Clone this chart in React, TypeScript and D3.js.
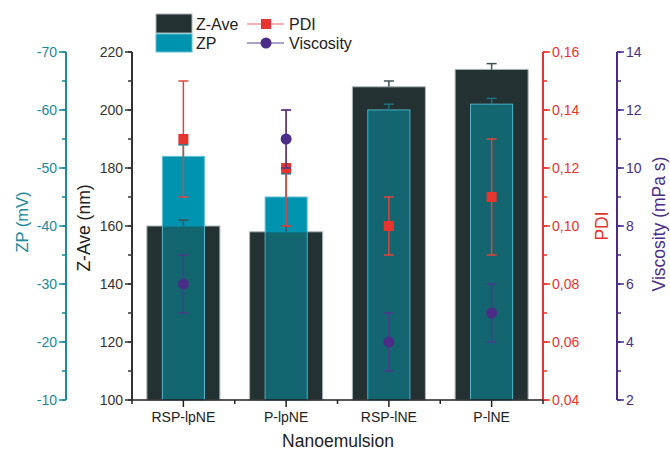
import { useEffect, useRef } from "react";
import * as d3 from "d3";

// data
const categories = ["RSP-lpNE", "P-lpNE", "RSP-lNE", "P-lNE"];
const zave = [160, 158, 208, 214];
const zaveErr = [2, 2, 2, 2];
const zp = [-52, -45, -60, -61];
const zpErr = [2, 4, 1, 1];
const pdi = [0.13, 0.12, 0.1, 0.11];
const pdiErr = [0.02, 0.02, 0.01, 0.02];
const viscosity = [6, 11, 4, 5];
const viscosityErr = [1, 1, 1, 1];

const zaveTicks = [100, 120, 140, 160, 180, 200, 220];
const zpTicks = [-10, -20, -30, -40, -50, -60, -70];
const pdiTicks = [0.04, 0.06, 0.08, 0.1, 0.12, 0.14, 0.16];
const viscTicks = [2, 4, 6, 8, 10, 12, 14];

const W = 670, H = 451;
const top = 52, bottom = 400, left = 132, right = 543;
const zpAxisX = 66, viscAxisX = 617;

const C_ZAVE = "#243133";
const C_ZP = "#0093b0";
const C_MIX = "#13666f";
const C_RED = "#e8342f";
const C_PURPLE = "#4b2d87";
const C_ZPAXIS = "#1a8a9c";
const FONT = "'Liberation Sans', Arial, sans-serif";

export default function App() {
  const ref = useRef<SVGSVGElement>(null);

  useEffect(() => {
    document.body.style.margin = "0";
    const svg = d3.select(ref.current);
    svg.selectAll("*").remove();

    const x = d3.scaleBand().domain(categories).range([left, right]).padding(0);
    const yZ = d3.scaleLinear().domain([100, 220]).range([bottom, top]);
    const yP = d3.scaleLinear().domain([-10, -70]).range([bottom, top]);
    const yD = d3.scaleLinear().domain([0.04, 0.16]).range([bottom, top]);
    const yV = d3.scaleLinear().domain([2, 14]).range([bottom, top]);

    const bw = x.bandwidth();
    const cx = (i: number) => (x(categories[i]) as number) + bw / 2;
    const zW = 73, pW = 42;

    const plot = svg.append("g");

    // Z-Ave bars
    plot.selectAll(".zave").data(zave).enter().append("rect")
      .attr("x", (d, i) => cx(i) - zW / 2)
      .attr("y", d => yZ(d))
      .attr("width", zW)
      .attr("height", d => bottom - yZ(d))
      .attr("fill", C_ZAVE)
      .attr("stroke", "#a9b4b6").attr("stroke-width", 1);

    // ZP bars
    plot.selectAll(".zp").data(zp).enter().append("rect")
      .attr("x", (d, i) => cx(i) - pW / 2)
      .attr("y", d => yP(d))
      .attr("width", pW)
      .attr("height", d => bottom - yP(d))
      .attr("fill", C_ZP)
      .attr("stroke", "#5fc0d2").attr("stroke-width", 1);

    // overlap part of ZP inside Z-Ave
    plot.selectAll(".mix").data(zp).enter().append("rect")
      .attr("x", (d, i) => cx(i) - pW / 2 + 0.5)
      .attr("y", (d, i) => Math.max(yP(d), yZ(zave[i])) + 0.5)
      .attr("width", pW - 1)
      .attr("height", (d, i) => bottom - Math.max(yP(d), yZ(zave[i])) - 0.5)
      .attr("fill", C_MIX);

    const errBar = (g: any, xc: number, y1: number, y2: number, color: string, cap = 10, w = 1.5) => {
      g.append("line").attr("x1", xc).attr("x2", xc).attr("y1", y1).attr("y2", y2)
        .attr("stroke", color).attr("stroke-width", w);
      [y1, y2].forEach(yy => g.append("line").attr("x1", xc - cap / 2).attr("x2", xc + cap / 2)
        .attr("y1", yy).attr("y2", yy).attr("stroke", color).attr("stroke-width", w));
    };

    zave.forEach((v, i) => {
      const g = plot.append("g");
      g.append("line").attr("x1", cx(i)).attr("x2", cx(i)).attr("y1", yZ(v)).attr("y2", yZ(v + zaveErr[i]))
        .attr("stroke", "#3d5257").attr("stroke-width", 1.5);
      g.append("line").attr("x1", cx(i) - 5).attr("x2", cx(i) + 5).attr("y1", yZ(v + zaveErr[i])).attr("y2", yZ(v + zaveErr[i]))
        .attr("stroke", "#3d5257").attr("stroke-width", 1.5);
    });
    zp.forEach((v, i) => {
      const g = plot.append("g");
      g.append("line").attr("x1", cx(i)).attr("x2", cx(i)).attr("y1", yP(v)).attr("y2", yP(v - zpErr[i]))
        .attr("stroke", "#1c7380").attr("stroke-width", 1.5);
      g.append("line").attr("x1", cx(i) - 5).attr("x2", cx(i) + 5).attr("y1", yP(v - zpErr[i])).attr("y2", yP(v - zpErr[i]))
        .attr("stroke", "#1c7380").attr("stroke-width", 1.5);
    });

    // PDI
    pdi.forEach((v, i) => errBar(plot.append("g"), cx(i), yD(v + pdiErr[i]), yD(v - pdiErr[i]), "#e0443f"));
    plot.selectAll(".pdi").data(pdi).enter().append("rect")
      .attr("x", (d, i) => cx(i) - 5).attr("y", d => yD(d) - 5)
      .attr("width", 10).attr("height", 10).attr("fill", C_RED);

    // Viscosity
    viscosity.forEach((v, i) => errBar(plot.append("g"), cx(i), yV(v + viscosityErr[i]), yV(v - viscosityErr[i]), "#4d3a8c"));
    plot.selectAll(".visc").data(viscosity).enter().append("circle")
      .attr("cx", (d, i) => cx(i)).attr("cy", d => yV(d)).attr("r", 5.5).attr("fill", C_PURPLE);

    // vertical axes
    const vAxis = (xPos: number, scale: any, ticks: number[], minorStep: number, color: string,
      side: "left" | "right", fmt: (d: number) => string, width = 2) => {
      const g = svg.append("g");
      g.append("line").attr("x1", xPos).attr("x2", xPos).attr("y1", top).attr("y2", bottom)
        .attr("stroke", color).attr("stroke-width", width);
      const dir = side === "left" ? -1 : 1;
      const [lo, hi] = scale.domain();
      const minors = d3.range(0, Math.round(Math.abs(hi - lo) / minorStep) + 1)
        .map(k => lo + Math.sign(hi - lo) * k * minorStep);
      minors.forEach(m => g.append("line").attr("x1", xPos).attr("x2", xPos + dir * 4)
        .attr("y1", scale(m)).attr("y2", scale(m)).attr("stroke", color).attr("stroke-width", 1.5));
      ticks.forEach(t => {
        g.append("line").attr("x1", xPos).attr("x2", xPos + dir * 7)
          .attr("y1", scale(t)).attr("y2", scale(t)).attr("stroke", color).attr("stroke-width", 1.5);
        g.append("text").attr("x", xPos + dir * 9).attr("y", scale(t)).attr("dy", "0.35em")
          .attr("text-anchor", side === "left" ? "end" : "start")
          .attr("font-size", 14).attr("font-family", FONT).attr("fill", color).text(fmt(t));
      });
    };
    vAxis(left, yZ, zaveTicks, 10, "#333333", "left", d => String(d));
    vAxis(zpAxisX, yP, zpTicks, 5, C_ZPAXIS, "left", d => String(d));
    vAxis(right, yD, pdiTicks, 0.01, C_RED, "right", d => d3.format(".2f")(d).replace(".", ","));
    vAxis(viscAxisX, yV, viscTicks, 1, C_PURPLE, "right", d => String(d));

    // bottom axis
    const bx = svg.append("g");
    bx.append("line").attr("x1", left).attr("x2", right).attr("y1", bottom).attr("y2", bottom)
      .attr("stroke", "#222").attr("stroke-width", 1.5);
    categories.forEach((c, i) => {
      bx.append("line").attr("x1", cx(i)).attr("x2", cx(i)).attr("y1", bottom).attr("y2", bottom + 7)
        .attr("stroke", "#222").attr("stroke-width", 1.5);
      bx.append("text").attr("x", cx(i)).attr("y", bottom + 22).attr("text-anchor", "middle")
        .attr("font-size", 14).attr("font-family", FONT).attr("fill", "#222").text(c);
    });
    d3.range(0, categories.length + 1).forEach(k => {
      const xx = left + k * bw;
      bx.append("line").attr("x1", xx).attr("x2", xx).attr("y1", bottom).attr("y2", bottom + 4)
        .attr("stroke", "#222").attr("stroke-width", 1.5);
    });

    // axis titles
    const title = (xx: number, yy: number, txt: string, color: string, rot: boolean, size = 17.5) => {
      svg.append("text").attr("x", xx).attr("y", yy)
        .attr("transform", rot ? `rotate(-90 ${xx} ${yy})` : null)
        .attr("text-anchor", "middle").attr("dy", "0.35em")
        .attr("font-size", size).attr("font-family", FONT).attr("fill", color).text(txt);
    };
    title(338, 441, "Nanoemulsion", "#222", false);
    title(22, 222, "ZP (mV)", C_ZPAXIS, true, 16.5);
    title(84, 228, "Z-Ave (nm)", "#222", true);
    title(602, 226, "PDI", C_RED, true);
    title(659, 224, "Viscosity (mPa s)", C_PURPLE, true);

    // legend
    const lg = svg.append("g").attr("font-family", FONT).attr("font-size", 16).attr("fill", "#222");
    lg.append("rect").attr("x", 156).attr("y", 14).attr("width", 36).attr("height", 19)
      .attr("fill", C_ZAVE).attr("stroke", "#a9b4b6");
    lg.append("rect").attr("x", 156).attr("y", 34).attr("width", 36).attr("height", 18)
      .attr("fill", C_ZP).attr("stroke", "#5fc0d2");
    lg.append("text").attr("x", 196).attr("y", 24).attr("dy", "0.35em").text("Z-Ave");
    lg.append("text").attr("x", 196).attr("y", 43).attr("dy", "0.35em").text("ZP");
    lg.append("line").attr("x1", 247).attr("x2", 284).attr("y1", 24).attr("y2", 24)
      .attr("stroke", C_RED).attr("stroke-opacity", 0.5).attr("stroke-width", 1.5);
    lg.append("rect").attr("x", 261).attr("y", 19).attr("width", 10).attr("height", 10).attr("fill", C_RED);
    lg.append("line").attr("x1", 247).attr("x2", 284).attr("y1", 43).attr("y2", 43)
      .attr("stroke", C_PURPLE).attr("stroke-opacity", 0.6).attr("stroke-width", 1.5);
    lg.append("circle").attr("cx", 266).attr("cy", 43).attr("r", 5.5).attr("fill", C_PURPLE);
    lg.append("text").attr("x", 289).attr("y", 24).attr("dy", "0.35em").text("PDI");
    lg.append("text").attr("x", 289).attr("y", 43).attr("dy", "0.35em").text("Viscosity");
  }, []);

  return <svg ref={ref} width={W} height={H} style={{ display: "block", background: "#fff" }} />;
}
